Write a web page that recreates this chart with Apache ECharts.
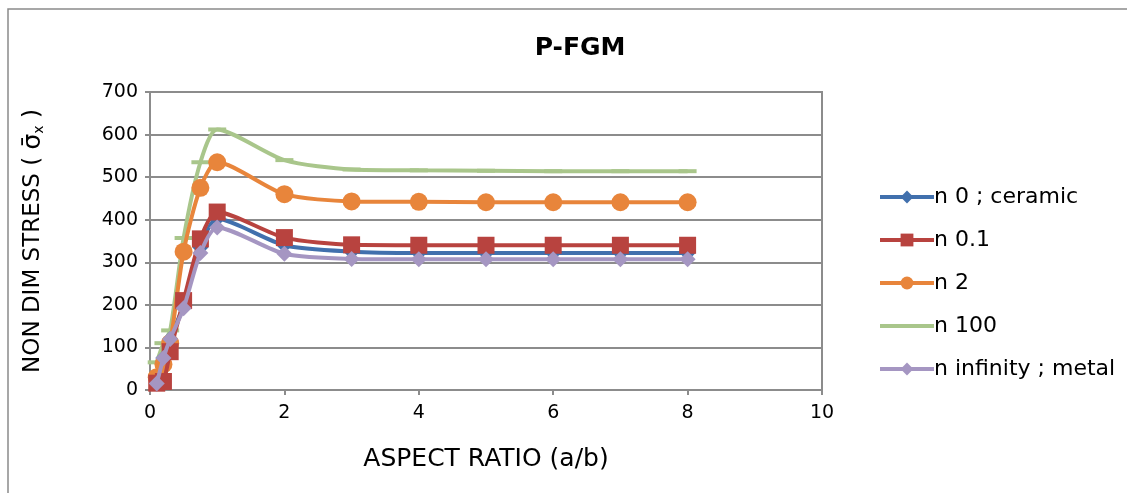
<!DOCTYPE html>
<html>
<head>
<meta charset="utf-8">
<script src="https://cdn.jsdelivr.net/npm/echarts@6/dist/echarts.min.js"></script>
<style>
  html, body { margin: 0; padding: 0; background: #fff; }
  #chart { width: 1127px; height: 493px; }
</style>
</head>
<body>
<div id="chart"></div>
<script>
// Aspect ratios (a/b)
const aspectRatios = [0.1, 0.2, 0.3, 0.5, 0.75, 1, 2, 3, 4, 5, 6, 7, 8];
// Series values (non-dimensional stress)
const nCeramic  = [15, 75, 120, 200, 335, 402, 340, 325, 322, 322, 322, 322, 322];
const n01       = [16, 20, 90, 210, 355, 418, 358, 341, 340, 340, 340, 340, 340];
const n2        = [30, 60, 110, 325, 475, 535, 460, 443, 442, 441, 441, 441, 441];
const n100      = [65, 110, 140, 357, 535, 612, 540, 518, 516, 515, 514, 514, 514];
const nMetal    = [15, 75, 120, 192, 322, 382, 320, 308, 307, 307, 307, 307, 307];
const seriesNames = ['n 0 ; ceramic', 'n 0.1', 'n 2', 'n 100', 'n infinity ; metal'];
const xTicks = [0, 2, 4, 6, 8, 10];
const yTicks = [0, 100, 200, 300, 400, 500, 600, 700];

const pairs = arr => aspectRatios.map((x, i) => [x, arr[i]]);

const colors = ['#4170AD', '#B8433F', '#E8853B', '#A9C68B', '#A596C2'];
const symbols = ['diamond', 'rect', 'circle', 'rect', 'diamond'];
const symbolSizes = [16, 17, 18, [18, 4], 16];
const values = [nCeramic, n01, n2, n100, nMetal];

const chart = echarts.init(document.getElementById('chart'));
const font = 'Verdana, "DejaVu Sans", sans-serif';

chart.setOption({
  animation: false,
  backgroundColor: '#fff',
  color: colors,
  graphic: [{
    type: 'rect',
    shape: { x: 8, y: 9, width: 1140, height: 500 },
    style: { fill: 'none', stroke: '#8a8a8a', lineWidth: 1.5 },
    silent: true
  }],
  title: {
    text: 'P-FGM',
    left: 575, top: 31, textAlign: 'center',
    textStyle: { fontFamily: font, fontSize: 25, fontWeight: 'bold', color: '#000' }
  },
  legend: {
    orient: 'vertical',
    left: 873, top: 181,
    itemWidth: 54, itemHeight: 16,
    itemGap: 21,
    lineStyle: { width: 4 },
    data: seriesNames.map((n, i) => i === 3 ? { name: n, itemStyle: { opacity: 0 } } : n),
    textStyle: { fontFamily: font, fontSize: 22, color: '#000', padding: [0, 0, 0, -5] }
  },
  grid: {
    left: 150, right: 305, top: 92, bottom: 103,
    show: true, borderColor: '#8c8c8c', borderWidth: 2, backgroundColor: 'transparent'
  },
  xAxis: {
    type: 'value', min: xTicks[0], max: xTicks[xTicks.length - 1], interval: 2,
    name: 'ASPECT RATIO (a/b)', nameLocation: 'middle', nameGap: 57,
    nameTextStyle: { fontFamily: font, fontSize: 25, color: '#000' },
    axisLine: { show: true, lineStyle: { color: '#8c8c8c', width: 2 } },
    axisTick: { show: true, length: 5, lineStyle: { color: '#8c8c8c', width: 2 } },
    splitLine: { show: false },
    axisLabel: { fontFamily: font, fontSize: 19, color: '#000', margin: 14 }
  },
  yAxis: {
    type: 'value', min: yTicks[0], max: yTicks[yTicks.length - 1], interval: 100,
    name: '{a|NON DIM STRESS ( }{b|σ̄}{c|x}{a| )}', nameLocation: 'middle', nameGap: 104,
    nameRotate: 90,
    nameTextStyle: {
      fontFamily: font, fontSize: 23, color: '#000',
      rich: {
        a: { fontFamily: font, fontSize: 23, color: '#000' },
        b: { fontFamily: font, fontSize: 25, color: '#000' },
        c: { fontFamily: font, fontSize: 14, color: '#000', padding: [12, 0, 0, 0] }
      }
    },
    axisLine: { show: true, lineStyle: { color: '#8c8c8c', width: 2 } },
    axisTick: { show: true, length: 5, lineStyle: { color: '#8c8c8c', width: 2 } },
    splitLine: { show: true, lineStyle: { color: '#8c8c8c', width: 2 } },
    axisLabel: { fontFamily: font, fontSize: 19, color: '#000', margin: 12 }
  },
  series: seriesNames.map((name, i) => ({
    name,
    type: 'line',
    smooth: 0.25,
    data: pairs(values[i]),
    symbol: symbols[i],
    symbolSize: symbolSizes[i],
    showAllSymbol: true,
    lineStyle: { width: 4, color: colors[i] },
    itemStyle: { color: colors[i], borderWidth: 0 },
    z: 2 + [1, 3, 2, 0, 4][i]
  }))
});
</script>
</body>
</html>
